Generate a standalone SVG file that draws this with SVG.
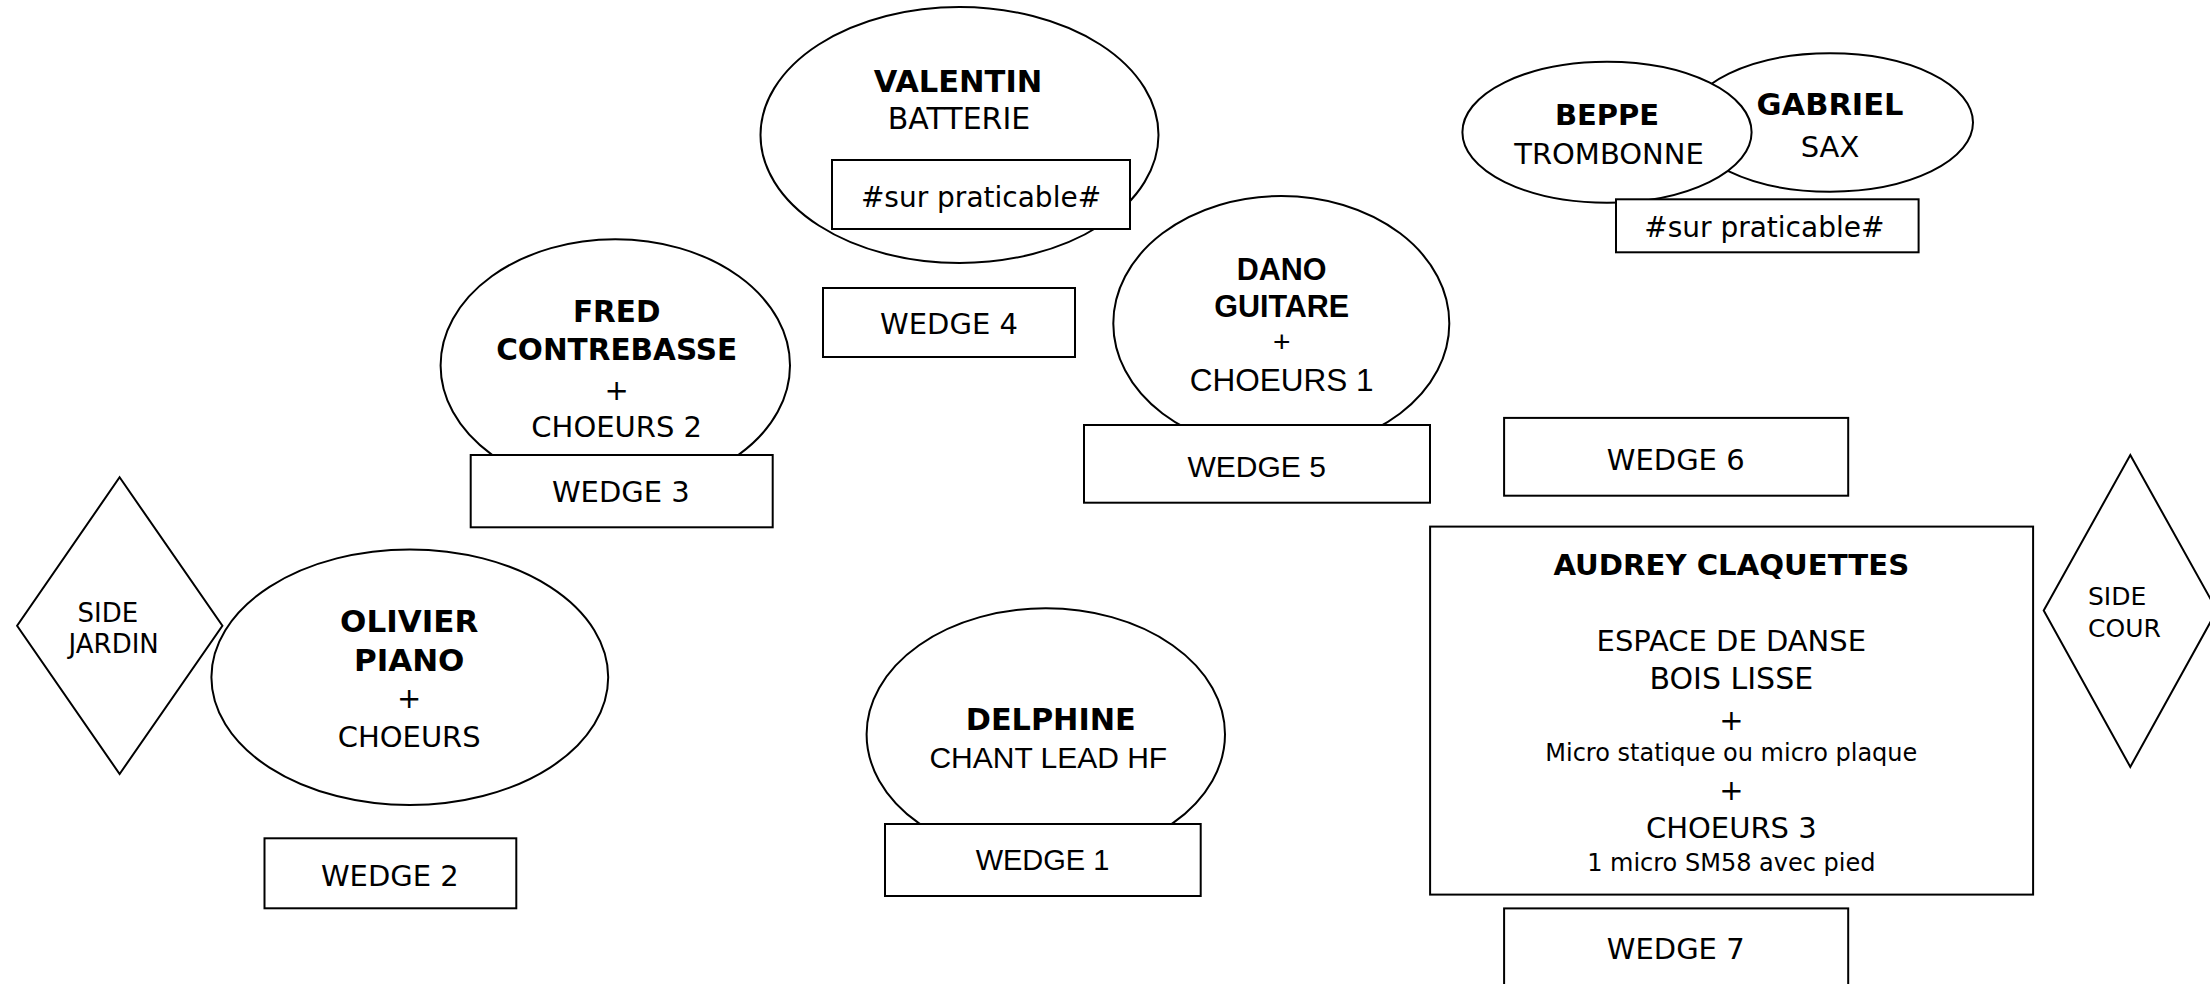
<svg xmlns="http://www.w3.org/2000/svg" width="2210" height="984" viewBox="0 0 2210 984">
<style>
.s{fill:#fff;stroke:#000;stroke-width:2}
text{font-family:"DejaVu Sans",sans-serif;font-size:29px;text-anchor:middle;fill:#000}
.b{font-weight:bold;font-size:29.5px}
.a{font-family:"Liberation Sans",Arial,sans-serif;font-size:30px}
.sm{font-size:24px}
.p{font-size:28px}
.sd{font-size:26px;text-anchor:start}
</style>
<rect width="2210" height="984" fill="#fff"/>
<g id="valentin">
<ellipse class="s" cx="959.5" cy="135" rx="199" ry="128"/>
<text class="b" x="958" y="92" style="font-size:30.5px">VALENTIN</text>
<text x="959" y="129" style="font-size:30px">BATTERIE</text>
<rect class="s" x="832" y="160" width="298" height="69"/>
<text class="p" x="981" y="207">#sur praticable#</text>
</g>
<g id="wedge4">
<rect class="s" x="823" y="288" width="252" height="69"/>
<text x="949" y="334">WEDGE 4</text>
</g>
<g id="fred">
<ellipse class="s" cx="615.3" cy="365.4" rx="174.7" ry="126.1"/>
<text class="b" x="616.7" y="321.7">FRED</text>
<text class="b" x="616.7" y="360">CONTREBASSE</text>
<text x="616.7" y="400">+</text>
<text x="616.7" y="436.7">CHOEURS 2</text>
</g>
<g id="wedge3">
<rect class="s" x="470.7" y="455" width="302" height="72.3"/>
<text x="620.8" y="501.7">WEDGE 3</text>
</g>
<g id="dano">
<ellipse class="s" cx="1281.3" cy="323.4" rx="168" ry="127.4"/>
<text class="a" x="1281.7" y="280" style="font-weight:bold;font-size:30.5px">DANO</text>
<text class="a" x="1281.7" y="316.7" style="font-weight:bold;font-size:30.5px">GUITARE</text>
<text class="a" x="1281.7" y="352">+</text>
<text class="a" x="1281.7" y="390.7" style="font-size:31.5px">CHOEURS 1</text>
</g>
<g id="wedge5">
<rect class="s" x="1084" y="425" width="346" height="77.7"/>
<text class="a" x="1256.7" y="476.7">WEDGE 5</text>
</g>
<g id="gabriel">
<ellipse class="s" cx="1830" cy="122.5" rx="143" ry="69.2"/>
<text class="b" x="1830" y="115" style="font-size:30.5px">GABRIEL</text>
<text x="1830" y="156.7">SAX</text>
</g>
<g id="beppe">
<ellipse class="s" cx="1607" cy="132.2" rx="144.6" ry="70.5"/>
<text class="b" x="1607" y="125" style="font-size:29px">BEPPE</text>
<text x="1609" y="164">TROMBONNE</text>
</g>
<g id="praticable2">
<rect class="s" x="1616" y="199.3" width="302.6" height="53"/>
<text class="p" x="1764.3" y="236.7">#sur praticable#</text>
</g>
<g id="wedge6">
<rect class="s" x="1504.1" y="417.9" width="344.1" height="77.8"/>
<text x="1675.7" y="469.6">WEDGE 6</text>
</g>
<g id="audrey">
<rect class="s" x="1430.1" y="526.6" width="603" height="368"/>
<text class="b" x="1731.3" y="575" style="font-size:29.2px">AUDREY CLAQUETTES</text>
<text x="1731.3" y="651.4">ESPACE DE DANSE</text>
<text x="1731.3" y="688.6" style="font-size:30px">BOIS LISSE</text>
<text x="1731.3" y="730">+</text>
<text class="sm" x="1731.3" y="761.3">Micro statique ou micro plaque</text>
<text x="1731.3" y="800">+</text>
<text x="1731.3" y="837.6">CHOEURS 3</text>
<text class="sm" x="1731.3" y="871.1">1 micro SM58 avec pied</text>
</g>
<g id="wedge7">
<rect class="s" x="1504.1" y="908.4" width="344.1" height="77.8"/>
<text x="1675.7" y="958.7">WEDGE 7</text>
</g>
<g id="side-cour">
<polygon class="s" points="2130.3,455.1 2216.9,610.4 2130.3,766.9 2043.7,610.4"/>
<text class="sd" x="2088" y="604.8" style="font-size:25px">SIDE</text>
<text class="sd" x="2088" y="636.5" style="font-size:25px">COUR</text>
</g>
<g id="side-jardin">
<polygon class="s" points="119.6,477.3 222.4,625.7 119.6,774 17.1,625.7"/>
<text class="sd" x="77.6" y="621.7">SIDE</text>
<text class="sd" x="68.6" y="653.3">JARDIN</text>
</g>
<g id="olivier">
<ellipse class="s" cx="409.8" cy="677.2" rx="198.4" ry="127.8"/>
<text class="b" x="409.2" y="631.7" style="font-size:31px">OLIVIER</text>
<text class="b" x="409.2" y="670.7" style="font-size:31px">PIANO</text>
<text x="409.2" y="708">+</text>
<text x="409.2" y="746.7">CHOEURS</text>
</g>
<g id="wedge2">
<rect class="s" x="264.5" y="838.3" width="251.8" height="70"/>
<text x="389.8" y="886">WEDGE 2</text>
</g>
<g id="delphine">
<ellipse class="s" cx="1045.8" cy="734.3" rx="179.2" ry="126"/>
<text class="b" x="1050.8" y="730" style="font-size:30.3px">DELPHINE</text>
<text class="a" x="1048.3" y="768.3">CHANT LEAD HF</text>
</g>
<g id="wedge1">
<rect class="s" x="885" y="824" width="315.7" height="72"/>
<text class="a" x="1042.5" y="870" style="font-size:29px">WEDGE 1</text>
</g>
</svg>
